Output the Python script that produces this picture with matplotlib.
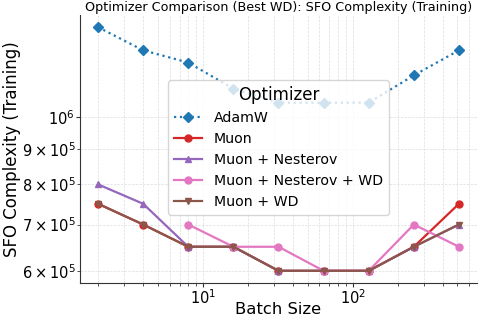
import numpy as np
import matplotlib
matplotlib.use("Agg")
import matplotlib.pyplot as plt

# batch sizes and SFO complexity per optimizer
batch_sizes = [2, 4, 8, 16, 32, 64, 128, 256, 512]
adamw = [1.35e6, 1.25e6, 1.2e6, 1.1e6, 1.05e6, 1.05e6, 1.05e6, 1.15e6, 1.25e6]
muon = [7.5e5, 7.0e5, 6.5e5, 6.5e5, 6.0e5, 6.0e5, 6.0e5, 6.5e5, 7.5e5]
muon_nesterov = [8.0e5, 7.5e5, 6.5e5, 6.5e5, 6.0e5, 6.0e5, 6.0e5, 6.5e5, 7.0e5]
muon_nesterov_wd = [np.nan, np.nan, 7.0e5, 6.5e5, 6.5e5, 6.0e5, 6.0e5, 7.0e5, 6.5e5]
muon_wd = [7.5e5, 7.0e5, 6.5e5, 6.5e5, 6.0e5, 6.0e5, 6.0e5, 6.5e5, 7.0e5]

series = [
    ("AdamW", adamw, "#1f77b4", "D", ":"),
    ("Muon", muon, "#d62728", "o", "-"),
    ("Muon + Nesterov", muon_nesterov, "#9467bd", "^", "-"),
    ("Muon + Nesterov + WD", muon_nesterov_wd, "#e377c2", "o", "-"),
    ("Muon + WD", muon_wd, "#8c564b", "v", "-"),
]

fig = plt.figure(figsize=(4.78, 3.2), dpi=100)
ax = fig.add_subplot(111)
fig.subplots_adjust(left=80/478, right=477/478, bottom=1-283/320, top=1-15/320)

for name, vals, color, marker, ls in series:
    ax.plot(batch_sizes, vals, color=color, marker=marker, linestyle=ls,
            linewidth=1.6, markersize=5, label=name)

ax.set_xscale("log")
ax.set_yscale("log")

ax.grid(True, which="both", color="#dddddd", linestyle="--", linewidth=0.5)
ax.set_axisbelow(True)
for side in ("top", "right"):
    ax.spines[side].set_visible(False)
for side in ("left", "bottom"):
    ax.spines[side].set_color("#333333")

ax.tick_params(axis="both", which="major", labelsize=10.5, length=3, pad=1, color="#333333")
ax.tick_params(axis="both", which="minor", labelsize=10.5, length=2, pad=1, color="#333333")
ax.set_xlabel("Batch Size", fontsize=11.8, labelpad=-3.5)
ax.set_ylabel("SFO Complexity (Training)", fontsize=12, labelpad=1)
ax.set_title("Optimizer Comparison (Best WD): SFO Complexity (Training)", fontsize=9.2, pad=3)

leg = ax.legend(title="Optimizer", fontsize=10.2, title_fontsize=12, loc="center",
                bbox_to_anchor=(0.5, 0.505))

fig.savefig("out.png", dpi=100)
